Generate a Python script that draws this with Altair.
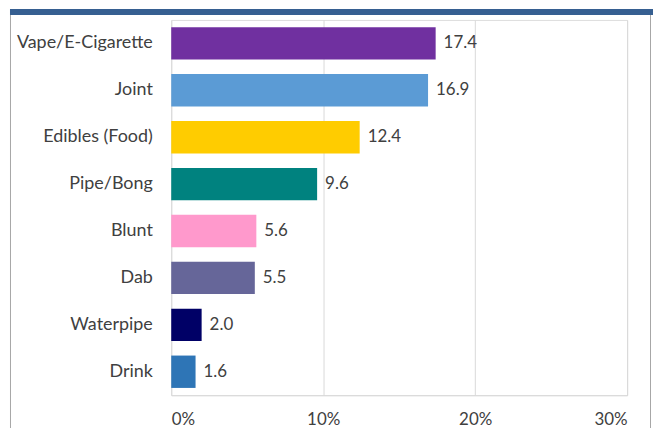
import altair as alt
import pandas as pd

categories = ["Vape/E-Cigarette", "Joint", "Edibles (Food)", "Pipe/Bong", "Blunt", "Dab", "Waterpipe", "Drink"]
values = [17.4, 16.9, 12.4, 9.6, 5.6, 5.5, 2.0, 1.6]
colors = ["#7030A0", "#5B9BD5", "#FFCC00", "#00827F", "#FF99CC", "#666699", "#000066", "#2E75B6"]
x_ticks = [0, 10, 20, 30]

df = pd.DataFrame({"cat": categories, "val": values})
one = pd.DataFrame({"k": [0]})

FONT = "Lato"
TXT = "#404040"

x_enc = alt.X("val:Q", scale=alt.Scale(domain=[0, 30], nice=False),
              axis=alt.Axis(values=x_ticks, labelExpr="datum.value + '%'", title=None,
                            grid=True, gridColor="#D9D9D9", gridWidth=1,
                            domain=True, domainColor="#D9D9D9", ticks=False,
                            labelFont=FONT, labelFontSize=17, labelColor=TXT,
                            labelPadding=16, labelBaseline="top"))
y_enc = alt.Y("cat:N", sort=categories,
              scale=alt.Scale(paddingInner=0.31, paddingOuter=0.155),
              axis=alt.Axis(title=None, domain=False, ticks=False, grid=False,
                            labelFont=FONT, labelFontSize=18, labelColor=TXT,
                            labelPadding=19))

bars = alt.Chart(df).mark_bar().encode(
    x=x_enc, y=y_enc,
    color=alt.Color("cat:N", scale=alt.Scale(domain=categories, range=colors), legend=None),
)
labels = alt.Chart(df).mark_text(align="left", baseline="middle", dx=8,
                                 font=FONT, fontSize=17, color=TXT).encode(
    x="val:Q", y=alt.Y("cat:N", sort=categories), text=alt.Text("val:Q", format=".1f"))

band = alt.Chart(one).mark_rect(color="#365F91").encode(
    x=alt.value(-162), x2=alt.value(484), y=alt.value(-11), y2=alt.value(-5))
left_line = alt.Chart(one).mark_rule(color="#A6A6A6", strokeWidth=1).encode(
    x=alt.value(-161.5), y=alt.value(-5), y2=alt.value(430))
right_line = alt.Chart(one).mark_rule(color="#A6A6A6", strokeWidth=1).encode(
    x=alt.value(481.5), y=alt.value(-5), y2=alt.value(430))

chart = alt.layer(bars, labels, band, left_line, right_line).properties(
    width=458, height=377,
    autosize=alt.AutoSizeParams(type="none"),
    padding={"left": 164, "top": 11, "right": 26, "bottom": 40},
).configure_view(stroke=None).configure(background="white")

chart.save("out.html", embed_options={"renderer": "svg", "actions": False})
